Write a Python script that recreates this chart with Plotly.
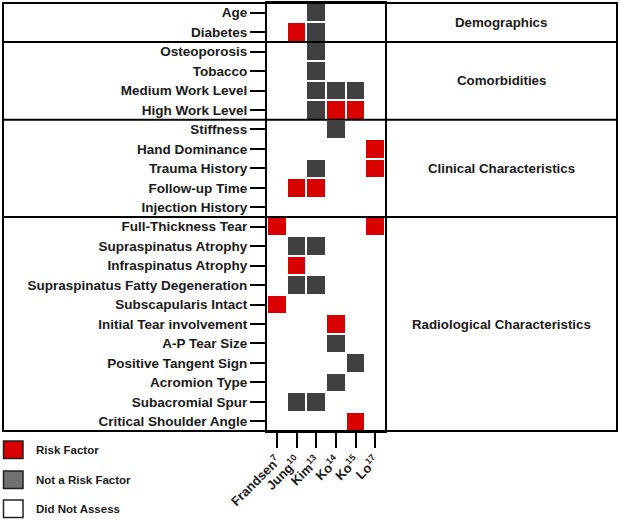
import plotly.graph_objects as go

# ---- data ----
studies = ["Frandsen", "Jung", "Kim", "Ko14", "Ko15", "Lo"]
study_labels = ["Frandsen<sup>7</sup>", "Jung<sup>10</sup>", "Kim<sup>13</sup>",
                "Ko<sup>14</sup>", "Ko<sup>15</sup>", "Lo<sup>17</sup>"]

factors = ["Age", "Diabetes",
           "Osteoporosis", "Tobacco", "Medium Work Level", "High Work Level",
           "Stiffness", "Hand Dominance", "Trauma History", "Follow-up Time", "Injection History",
           "Full-Thickness Tear", "Supraspinatus Atrophy", "Infraspinatus Atrophy",
           "Supraspinatus Fatty Degeneration", "Subscapularis Intact", "Initial Tear involvement",
           "A-P Tear Size", "Positive Tangent Sign", "Acromion Type", "Subacromial Spur",
           "Critical Shoulder Angle"]

groups = ["Demographics", "Comorbidities", "Clinical Characteristics", "Radiological Characteristics"]
group_sizes = [2, 4, 5, 11]

# 0 = did not assess, 1 = not a risk factor, 2 = risk factor (one entry per factor)
frandsen = [0, 0, 0, 0, 0, 0, 0, 0, 0, 0, 0, 2, 0, 0, 0, 2, 0, 0, 0, 0, 0, 0]
jung     = [0, 2, 0, 0, 0, 0, 0, 0, 0, 2, 0, 0, 1, 2, 1, 0, 0, 0, 0, 0, 1, 0]
kim      = [1, 1, 1, 1, 1, 1, 0, 0, 1, 2, 0, 0, 1, 0, 1, 0, 0, 0, 0, 0, 1, 0]
ko14     = [0, 0, 0, 0, 1, 2, 1, 0, 0, 0, 0, 0, 0, 0, 0, 0, 2, 1, 0, 1, 0, 0]
ko15     = [0, 0, 0, 0, 1, 2, 0, 0, 0, 0, 0, 0, 0, 0, 0, 0, 0, 0, 1, 0, 0, 2]
lo       = [0, 0, 0, 0, 0, 0, 0, 2, 2, 0, 0, 2, 0, 0, 0, 0, 0, 0, 0, 0, 0, 0]

legend_labels = ["Risk Factor", "Not a Risk Factor", "Did Not Assess"]

# ---- styles ----
RED = "#d90000"
GRAY = "#404040"
LEG_GRAY = "#717171"
FONT = "Liberation Sans"

W, H = 620, 520
ML, MR, MT, MB = 3, 3, 3, 89
PX0, PX1 = 267, 385  # heatmap plot area in pixels
PW, PH = W - ML - MR, H - MT - MB


def px_x(px):
    return (px - ML) / PW


def px_y(py):
    return (H - MB - py) / PH


cols = [frandsen, jung, kim, ko14, ko15, lo]
z = []
for i in range(len(factors)):
    row = []
    for c in cols:
        v = c[i]
        row.append(v if v > 0 else None)
    z.append(row)

fig = go.Figure()
fig.add_trace(go.Heatmap(
    z=z, x=studies, y=factors,
    zmin=1, zmax=2,
    colorscale=[[0, GRAY], [0.5, GRAY], [0.5, RED], [1, RED]],
    showscale=False, xgap=2, ygap=2, hoverinfo="skip",
))

shapes = []
# outer box
shapes.append(dict(type="rect", xref="paper", yref="paper", x0=0, x1=1, y0=0, y1=1,
                   line=dict(color="black", width=2)))
# group separators
b = -0.5
centers = []
for n in group_sizes:
    centers.append(b + n / 2)
    b += n
    if b < len(factors) - 0.5:
        shapes.append(dict(type="line", xref="paper", yref="y", x0=0, x1=1, y0=b, y1=b,
                           line=dict(color="black", width=2)))

annotations = []
for g, c in zip(groups, centers):
    annotations.append(dict(text=g, xref="paper", yref="y", x=px_x(501), y=c,
                            showarrow=False, xanchor="center", yanchor="middle",
                            font=dict(family=FONT, size=13.3, color="#1a1a1a", weight="bold")))

# legend (drawn manually)
leg_fill = [RED, LEG_GRAY, "white"]
leg_top = [441, 471, 500]
for lab, col, top in zip(legend_labels, leg_fill, leg_top):
    shapes.append(dict(type="rect", xref="paper", yref="paper",
                       x0=px_x(3.5), x1=px_x(23), y0=px_y(top), y1=px_y(top + 17.5),
                       fillcolor=col, line=dict(color="#222222", width=1.5)))
    annotations.append(dict(text=lab, xref="paper", yref="paper", x=px_x(34), y=px_y(top + 8.5),
                            showarrow=False, xanchor="left", yanchor="middle",
                            font=dict(family=FONT, size=11.5, color="#1a1a1a", weight="bold")))

fig.update_layout(
    width=W, height=H,
    margin=dict(l=ML, r=MR, t=MT, b=MB, pad=0, autoexpand=False),
    paper_bgcolor="white", plot_bgcolor="white",
    shapes=shapes, annotations=annotations,
    showlegend=False,
    xaxis=dict(domain=[px_x(PX0), px_x(PX1)], range=[-0.5, 5.5], automargin=False,
               tickmode="array", tickvals=studies, ticktext=study_labels,
               tickangle=-45, ticks="outside", ticklen=15, tickwidth=2, tickcolor="black",
               showline=True, linecolor="black", linewidth=2, mirror=True,
               showgrid=False, zeroline=False, fixedrange=True,
               tickfont=dict(family=FONT, size=13, color="#1a1a1a", weight="bold")),
    yaxis=dict(range=[len(factors) - 0.5, -0.5], type="category", automargin=False,
               ticks="outside", ticklen=15, tickwidth=2, tickcolor="black",
               showline=True, linecolor="black", linewidth=2, mirror=True,
               showgrid=False, zeroline=False, fixedrange=True,
               tickfont=dict(family=FONT, size=13.5, color="#1a1a1a", weight="bold")),
)

fig.write_html("out.html", config={"displayModeBar": False},
               post_script="document.body.style.margin='0';document.body.style.overflow='hidden';")
